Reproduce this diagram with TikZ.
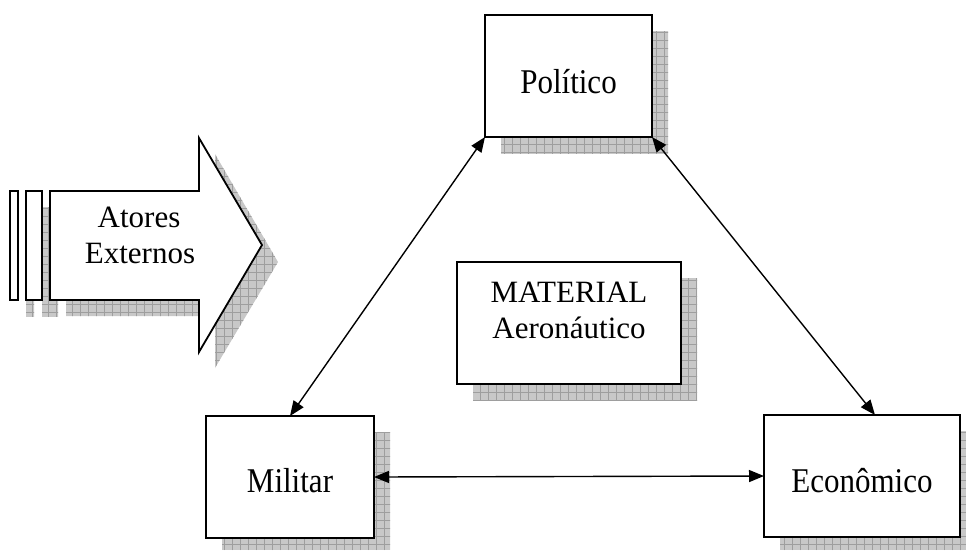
\documentclass[tikz,border=0pt]{standalone}
\usepackage{fontspec}
\setmainfont{Liberation Serif}
\usetikzlibrary{arrows.meta}
\definecolor{shadowgray}{RGB}{200,200,200}
\definecolor{shadowline}{RGB}{158,158,158}
\pgfdeclarelayer{bg}
\pgfsetlayers{bg,main}
% hatched drop shadow filling the given closed path
\newcommand\dropshadow[1]{%
  \begin{pgfonlayer}{bg}
  \begin{scope}
    \clip #1;
    \fill[shadowgray] (0,0) rectangle (966,550);
    \draw[shadowline, line width=0.6pt, step=8pt] (0,0) grid (966,550);
  \end{scope}
  \end{pgfonlayer}}
% slightly tall lettering used in the actor boxes
\newcommand\tall[1]{\scalebox{1}[1.12]{#1}}
\tikzset{
  box/.style={draw, line width=1.8pt, fill=white, inner sep=0pt, outer sep=0pt,
    minimum height=122pt},
  txt/.style={font=\fontsize{31}{36}\selectfont, inner sep=0pt, align=center},
  conn/.style={line width=1.4pt, {Triangle[length=15pt,width=12pt]}-{Triangle[length=15pt,width=12pt]}},
  outline/.style={draw, line width=1.8pt, fill=white},
}
\begin{document}
\begin{tikzpicture}[x=1pt, y=-1pt]
\clip (0,0) rectangle (966,550);

% the four boxes
\node[box, minimum width=167pt] (pol) at (568.5,76) {};
\node[box, minimum width=168pt] (mil) at (290,477) {};
\node[box, minimum width=196pt] (eco) at (862,476) {};
\node[box, minimum width=224pt] (mat) at (569,323) {};

\foreach \b in {pol,mil,eco,mat}{
  \dropshadow{([shift={(16,16)}]\b.north west) rectangle ([shift={(16,16)}]\b.south east)}
}

\node[txt, anchor=base] (polt) at ([yshift=-17pt]pol.center) {\tall{Político}};
\node[txt, anchor=base] (milt) at ([yshift=-15pt]mil.center) {\tall{Militar}};
\node[txt, anchor=base] (ecot) at ([yshift=-16pt]eco.center) {\tall{Econômico}};
\node[txt, anchor=north] (matt) at ([yshift=-20pt]mat.north) {MATERIAL\\Aeronáutico};

% block arrow of the external actors
\dropshadow{(66,207) -- (215,207) -- (215,154) -- (278,262) -- (215,368) -- (215,316) -- (66,316) -- cycle}
\dropshadow{(26,207) rectangle (34,316)}
\dropshadow{(42,207) rectangle (58,316)}
\draw[outline] (10,191) rectangle (18,300);
\draw[outline] (26,191) rectangle (42,300);
\draw[outline] (50,191) -- (199,191) -- (199,138) -- (262,245) -- (199,352) -- (199,300) -- (50,300) -- cycle;
\node[txt, anchor=base] (atores) at (139,227) {Atores};
\node[txt, anchor=base] (externos) at (140,263) {Externos};

% relations between the three actors
\draw[conn] (pol.south west) -- (mil.north);
\draw[conn] (pol.south east) -- ([xshift=13pt]eco.north);
\draw[conn] (mil.east) -- (eco.west);
\end{tikzpicture}
\end{document}
